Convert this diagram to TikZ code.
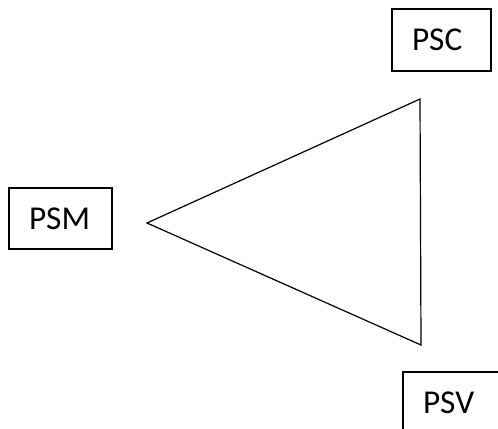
\documentclass[tikz,border=0pt]{standalone}
\usepackage{fontspec}
\setmainfont{Carlito}
\usepackage{tikz}
\usetikzlibrary{positioning}
\tikzstyle{block} = [rectangle, text width=59*0.75pt, inner xsep=20*0.75pt, inner ysep=0pt, minimum height=62*0.75pt, align=left, draw=black, line width=0.9pt, fill=white, font=\fontsize{25pt}{28pt}\selectfont]
\tikzstyle{edge} = [line width=0.9pt, line join=miter]

\begin{document}
\begin{tikzpicture}[x=0.75pt, y=-0.75pt]
                \useasboundingbox (0,0) rectangle (498,428);
                \clip (0,0) rectangle (498,428);

                \node (psc) [block] at (441.5,40) {PSC};
                \node (psm) [block, text width=63*0.75pt, minimum height=61*0.75pt] at (60.5,218.5) {PSM};
                \node (psv) [block] at (452.5,403) {PSV};

% ---------------------------------------------
% Triangle
% ---------------------------------------------
                \coordinate (apex_left) at (147,223);
                \coordinate (apex_top) at (420,99);
                \coordinate (apex_bottom) at (421,345);

                \draw [edge] (apex_left) -- (apex_top) -- (apex_bottom) -- cycle;

            \end{tikzpicture}
\end{document}
